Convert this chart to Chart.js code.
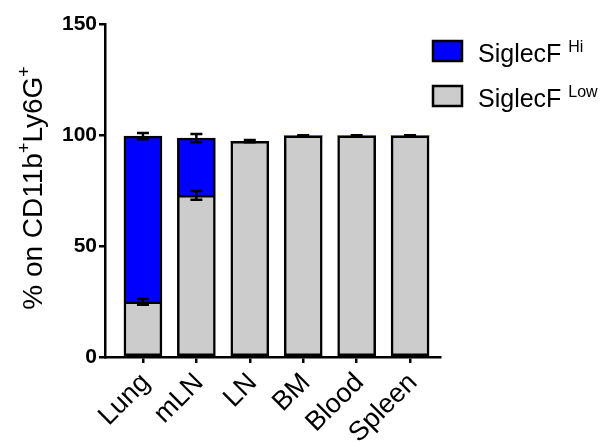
<!DOCTYPE html>
<html><head><meta charset="utf-8">
<script src="https://cdn.jsdelivr.net/npm/chart.js@4"></script>
<style>html,body{margin:0;padding:0;background:#fff}canvas{display:block}</style>
</head><body>
<canvas id="c" width="601" height="442"></canvas>
<script>
const categories = ['Lung', 'mLN', 'LN', 'BM', 'Blood', 'Spleen'];
const siglecLow = [24.8, 72.8, 97.2, 99.6, 99.6, 99.6];
const siglecHi = [74.7, 25.8, 0, 0, 0, 0];
const siglecLowErr = [1.3, 2.0, 0.5, 0.3, 0.3, 0.3];
const siglecHiErr = [1.4, 1.9, 0, 0, 0, 0];
const seriesLabels = ['SiglecF Low', 'SiglecF Hi'];
const legendOrder = [1, 0];
const yTicks = [0, 50, 100, 150];
const yTitleParts = [['% on CD11b', false], ['+', true], ['Ly6G', false], ['+', true]];

const FONT = '"Liberation Sans", Arial, Helvetica, sans-serif';

const errorBars = {
  id: 'errorBars',
  afterDatasetsDraw(chart) {
    const c = chart.ctx, ys = chart.scales.y, xs = chart.scales.x;
    const ds = chart.data.datasets;
    c.save();
    c.strokeStyle = '#000';
    c.lineWidth = 2.5;
    ds.forEach((d, di) => {
      d.data.forEach((p, i) => {
        if (!p.y) return;
        let cum = 0;
        for (let k = 0; k <= di; k++) cum += ds[k].data[i].y || 0;
        const e = d.errors[i];
        const x = xs.getPixelForValue(p.x);
        const y1 = ys.getPixelForValue(cum + e), y2 = ys.getPixelForValue(cum - e);
        c.beginPath();
        c.moveTo(x, y1); c.lineTo(x, y2);
        c.moveTo(x - 6, y1); c.lineTo(x + 6, y1);
        c.moveTo(x - 6, y2); c.lineTo(x + 6, y2);
        c.stroke();
      });
    });
    c.restore();
  }
};

const customLegend = {
  id: 'customLegend',
  afterDraw(chart) {
    const c = chart.ctx;
    c.save();
    legendOrder.forEach((di, row) => {
      const d = chart.data.datasets[di];
      const top = 41 + row * 45;
      c.fillStyle = d.backgroundColor;
      c.fillRect(433, top, 29, 20);
      c.strokeStyle = '#000'; c.lineWidth = 2.5;
      c.strokeRect(433, top, 29, 20);
      const parts = d.label.split(' ');
      const base = top + 21;
      c.fillStyle = '#000';
      c.textBaseline = 'alphabetic'; c.textAlign = 'left';
      c.font = '25px ' + FONT;
      c.fillText(parts[0], 478, base);
      const w = c.measureText(parts[0] + ' ').width;
      c.font = '16px ' + FONT;
      c.fillText(parts[1], 478 + w, base - 10);
    });
    c.restore();
  }
};

const yTitle = {
  id: 'yTitle',
  afterDraw(chart) {
    const c = chart.ctx;
    c.save();
    c.fillStyle = '#000';
    c.textBaseline = 'alphabetic'; c.textAlign = 'left';
    const fMain = '28px ' + FONT, fSup = '18px ' + FONT;
    let total = 0;
    yTitleParts.forEach(([t, sup]) => { c.font = sup ? fSup : fMain; total += c.measureText(t).width; });
    c.translate(42, 188);
    c.rotate(-Math.PI / 2);
    let x = -total / 2;
    yTitleParts.forEach(([t, sup]) => {
      c.font = sup ? fSup : fMain;
      c.fillText(t, x, sup ? -12 : 0);
      x += c.measureText(t).width;
    });
    c.restore();
  }
};

new Chart(document.getElementById('c'), {
  type: 'bar',
  data: {
    datasets: [
      {
        label: seriesLabels[0],
        data: siglecLow.map((v, i) => ({ x: i, y: v })),
        errors: siglecLowErr,
        backgroundColor: '#cccccc',
        borderColor: '#000',
        borderWidth: ctx => (ctx.raw && ctx.raw.y ? 2.5 : 0),
        borderSkipped: false,
        barThickness: 38
      },
      {
        label: seriesLabels[1],
        data: siglecHi.map((v, i) => ({ x: i, y: v })),
        errors: siglecHiErr,
        backgroundColor: '#0000ff',
        borderColor: '#000',
        borderWidth: ctx => (ctx.raw && ctx.raw.y ? 2.5 : 0),
        borderSkipped: 'bottom',
        barThickness: 38
      }
    ]
  },
  options: {
    responsive: false,
    animation: false,
    layout: { padding: { top: 24, right: 161, left: 0, bottom: 0 } },
    plugins: { legend: { display: false }, tooltip: { enabled: false } },
    scales: {
      x: {
        type: 'linear', stacked: true, offset: false,
        min: -0.71, max: 5.56,
        afterBuildTicks: s => { s.ticks = categories.map((_, i) => ({ value: i })); },
        afterFit: s => { s.height = 85; },
        ticks: {
          callback: v => categories[v],
          minRotation: 45, maxRotation: 45, autoSkip: false,
          color: '#000', font: { family: FONT, size: 27 }, padding: 4, labelOffset: 3
        },
        grid: { offset: false, drawOnChartArea: false, tickLength: 6, color: '#000', lineWidth: 2.5 },
        border: { color: '#000', width: 2.5 }
      },
      y: {
        stacked: true, min: 0, max: 150,
        afterBuildTicks: s => { s.ticks = yTicks.map(v => ({ value: v })); },
        afterFit: s => { s.width = 105; },
        ticks: { color: '#000', font: { family: FONT, size: 21, weight: 'bold' }, padding: 2 },
        grid: { drawOnChartArea: false, tickLength: 6, color: '#000', lineWidth: 2.5 },
        border: { color: '#000', width: 2.5 }
      }
    }
  },
  plugins: [errorBars, customLegend, yTitle]
});
</script>
</body></html>
